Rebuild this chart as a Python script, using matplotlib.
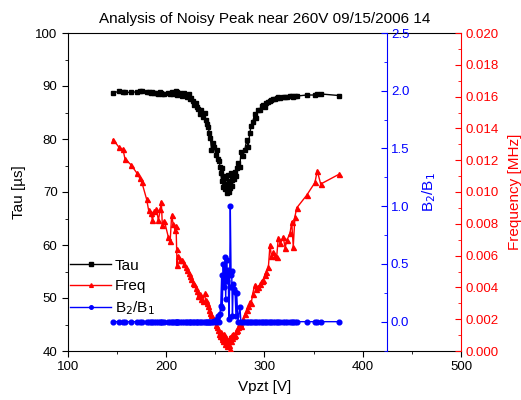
import numpy as np
import matplotlib
matplotlib.use("Agg")
import matplotlib.pyplot as plt
from matplotlib.ticker import MultipleLocator, FormatStrFormatter

plt.rcParams['font.family'] = ['Liberation Sans', 'DejaVu Sans']

# Vpzt [V] shared by all three series
vpzt = [146.0, 152.0, 156.0, 158.0, 164.0, 170.0, 173.0, 175.0, 180.0, 182.0,
        184.0, 186.0, 188.0, 190.0, 192.0, 194.0, 195.0, 196.0, 198.0, 202.0,
        204.0, 205.5, 207.0, 209.0, 210.0, 210.6, 211.0, 212.0, 214.0, 216.0,
        218.0, 220.0, 221.0, 223.0, 224.0, 225.5, 227.0, 228.5, 230.0, 231.0,
        232.5, 234.0, 235.5, 237.0, 239.0, 240.0, 241.0, 242.5, 244.0, 245.0,
        246.0, 247.5, 249.0, 250.5, 252.0, 253.0, 254.0, 254.7, 255.5, 256.4,
        257.0, 258.0, 258.8, 259.8, 260.5, 261.5, 262.3, 263.0, 263.8, 264.5,
        265.2, 266.0, 266.6, 267.4, 268.2, 269.0, 270.0, 271.0, 271.7, 273.0,
        275.0, 276.0, 278.0, 280.0, 281.8, 283.5, 285.0, 286.5, 288.0, 290.0,
        291.5, 293.5, 295.5, 297.0, 298.8, 300.5, 302.0, 304.0, 305.6, 307.0,
        309.0, 310.5, 312.4, 314.0, 316.0, 319.0, 321.0, 323.0, 326.0, 327.7,
        329.3, 331.0, 332.8, 343.0, 351.4, 353.7, 357.2, 376.0]

tau = [88.7, 89.0, 88.8, 88.8, 88.8, 88.9, 89.0, 89.0, 88.9, 88.8,
       88.7, 88.8, 88.6, 88.7, 88.5, 88.9, 88.6, 88.4, 88.5, 88.6,
       88.5, 88.8, 88.4, 88.6, 89.0, 88.9, 88.3, 88.5, 88.7, 88.1,
       88.6, 88.3, 87.9, 88.4, 87.6, 87.8, 87.2, 86.5, 86.8, 86.0,
       85.6, 84.8, 85.4, 84.2, 85.0, 83.5, 82.8, 82.2, 81.2, 80.2,
       78.0, 79.2, 78.5, 77.0, 77.9, 76.2, 75.8, 74.8, 73.5, 72.0,
       74.5, 71.0, 73.0, 70.6, 72.6, 69.9, 71.5, 73.2, 70.0, 72.0,
       70.8, 73.6, 72.3, 71.2, 73.0, 72.4, 73.8, 73.0, 74.5, 75.5,
       74.8, 77.6, 76.8, 78.0, 79.8, 78.5, 81.1, 82.5, 83.2, 84.8,
       84.0, 85.4, 85.5, 86.3, 86.4, 86.0, 86.7, 87.0, 87.2, 87.4,
       87.5, 87.6, 87.7, 87.9, 87.8, 88.0, 87.9, 88.0, 88.1, 88.2,
       88.0, 88.1, 88.1, 88.3, 88.3, 88.4, 88.5, 88.2]

freq = [0.01330, 0.01280, 0.01268, 0.01208, 0.01172, 0.01120, 0.01088, 0.01065, 0.00955, 0.00888,
        0.00870, 0.00826, 0.00880, 0.00895, 0.00822, 0.00893, 0.00940, 0.00795, 0.00820, 0.00720,
        0.00690, 0.00855, 0.00800, 0.00762, 0.00785, 0.00640, 0.00540, 0.00600, 0.00572, 0.00575,
        0.00545, 0.00530, 0.00510, 0.00488, 0.00470, 0.00450, 0.00430, 0.00420, 0.00395, 0.00380,
        0.00345, 0.00360, 0.00330, 0.00315, 0.00362, 0.00320, 0.00300, 0.00280, 0.00255, 0.00240,
        0.00225, 0.00210, 0.00190, 0.00165, 0.00150, 0.00130, 0.00110, 0.00095, 0.00120, 0.00075,
        0.00090, 0.00060, 0.00110, 0.00045, 0.00080, 0.00065, 0.00030, 0.00070, 0.00040, 0.00090,
        0.00010, 0.00060, 0.00100, 0.00080, 0.00110, 0.00095, 0.00100, 0.00125, 0.00132, 0.00150,
        0.00174, 0.00160, 0.00200, 0.00230, 0.00260, 0.00280, 0.00310, 0.00300, 0.00360, 0.00415,
        0.00390, 0.00404, 0.00420, 0.00440, 0.00447, 0.00480, 0.00500, 0.00530, 0.00667, 0.00600,
        0.00625, 0.00595, 0.00590, 0.00709, 0.00680, 0.00719, 0.00650, 0.00700, 0.00740, 0.00813,
        0.00656, 0.00845, 0.00900, 0.00980, 0.01060, 0.01134, 0.01050, 0.01112]

ratio = [0.0, 0.0, 0.0, 0.0, 0.0, 0.0, 0.0, 0.0, 0.0, 0.0,
         0.0, 0.0, 0.0, 0.0, 0.0, 0.0, 0.0, 0.0, 0.0, 0.0,
         0.0, 0.0, 0.0, 0.0, 0.0, 0.0, 0.0, 0.0, 0.0, 0.0,
         0.0, 0.0, 0.0, 0.0, 0.0, 0.0, 0.0, 0.0, 0.0, 0.0,
         0.0, 0.0, 0.0, 0.0, 0.0, 0.0, 0.0, 0.0, 0.0, 0.0,
         0.0, 0.0, 0.01, 0.0, 0.02, 0.05, 0.0, 0.07, 0.14, 0.40,
         0.12, 0.50, 0.30, 0.56, 0.20, 0.53, 0.35, 0.45, 0.02, 0.30,
         1.00, 0.40, 0.44, 0.05, 0.33, 0.28, 0.26, 0.05, 0.25, 0.0,
         0.13, 0.0, 0.0, 0.0, 0.0, 0.0, 0.0, 0.0, 0.0, 0.0,
         0.0, 0.0, 0.0, 0.0, 0.0, 0.0, 0.0, 0.0, 0.0, 0.0,
         0.0, 0.0, 0.0, 0.0, 0.0, 0.0, 0.0, 0.0, 0.0, 0.0,
         0.0, 0.0, 0.0, 0.0, 0.0, 0.0, 0.0, 0.0]

fig = plt.figure(figsize=(5.21, 4.0), dpi=100)
ax = fig.add_axes([0.1305, 0.1225, 0.7543, 0.795])
ax_r = ax.twinx()
ax_b = ax.twinx()

l1, = ax.plot(vpzt, tau, color='black', marker='s', ms=3.2, lw=1.0, label='Tau')
l2, = ax_r.plot(vpzt, freq, color='red', marker='^', ms=3.6, lw=1.0, label='Freq')
l3, = ax_b.plot(vpzt, ratio, color='blue', marker='o', ms=3.4, lw=1.0, label='B$_2$/B$_1$')

# left / bottom axis
ax.set_xlim(100, 500)
ax.set_ylim(40, 100)
ax.xaxis.set_major_locator(MultipleLocator(100))
ax.xaxis.set_minor_locator(MultipleLocator(50))
ax.yaxis.set_major_locator(MultipleLocator(10))
ax.yaxis.set_minor_locator(MultipleLocator(5))
ax.tick_params(which='both', direction='out', labelsize=9.5, top=False, right=False)
ax.tick_params(which='major', length=4)
ax.tick_params(which='minor', length=2.5)
ax.spines['right'].set_visible(False)
ax.set_xlabel('Vpzt [V]', fontsize=11, labelpad=5)
ax.set_ylabel('Tau [\u00b5s]', fontsize=11, labelpad=7)
ax.set_title('Analysis of Noisy Peak near 260V 09/15/2006 14', fontsize=11, pad=7)

# frequency axis (red, right edge)
ax_r.set_ylim(0, 0.020)
ax_r.yaxis.set_major_locator(MultipleLocator(0.002))
ax_r.yaxis.set_minor_locator(MultipleLocator(0.001))
ax_r.yaxis.set_major_formatter(FormatStrFormatter('%.3f'))
for s in ['top', 'bottom', 'left']:
    ax_r.spines[s].set_visible(False)
ax_r.spines['right'].set_color('red')
ax_r.tick_params(which='both', direction='in', colors='red', labelsize=9.5, pad=3)
ax_r.tick_params(which='major', length=4)
ax_r.tick_params(which='minor', length=2.5)
ax_r.set_ylabel('Frequency [MHz]', color='red', fontsize=11, labelpad=7)

# ratio axis (blue, inset)
ax_b.set_ylim(-0.254, 2.5)
ax_b.yaxis.set_major_locator(MultipleLocator(0.5))
ax_b.yaxis.set_minor_locator(MultipleLocator(0.25))
ax_b.yaxis.set_major_formatter(FormatStrFormatter('%.1f'))
ax_b.spines['right'].set_position(('axes', 0.811))
for s in ['top', 'bottom', 'left']:
    ax_b.spines[s].set_visible(False)
ax_b.spines['right'].set_color('blue')
ax_b.tick_params(which='both', direction='in', colors='blue', labelsize=9.5, pad=3)
ax_b.tick_params(which='major', length=4)
ax_b.tick_params(which='minor', length=2.5)
ax_b.set_ylabel('B$_2$/B$_1$', color='blue', fontsize=11, labelpad=8)

leg = ax_b.legend(handles=[l1, l2, l3], loc='upper left', bbox_to_anchor=(0.005, 0.29),
                  frameon=False, fontsize=11, handlelength=2.7, handletextpad=0.25,
                  labelspacing=0.4, borderaxespad=0.0, borderpad=0.0,
                  numpoints=1, markerscale=0.75)

fig.savefig('out.png', dpi=100)
